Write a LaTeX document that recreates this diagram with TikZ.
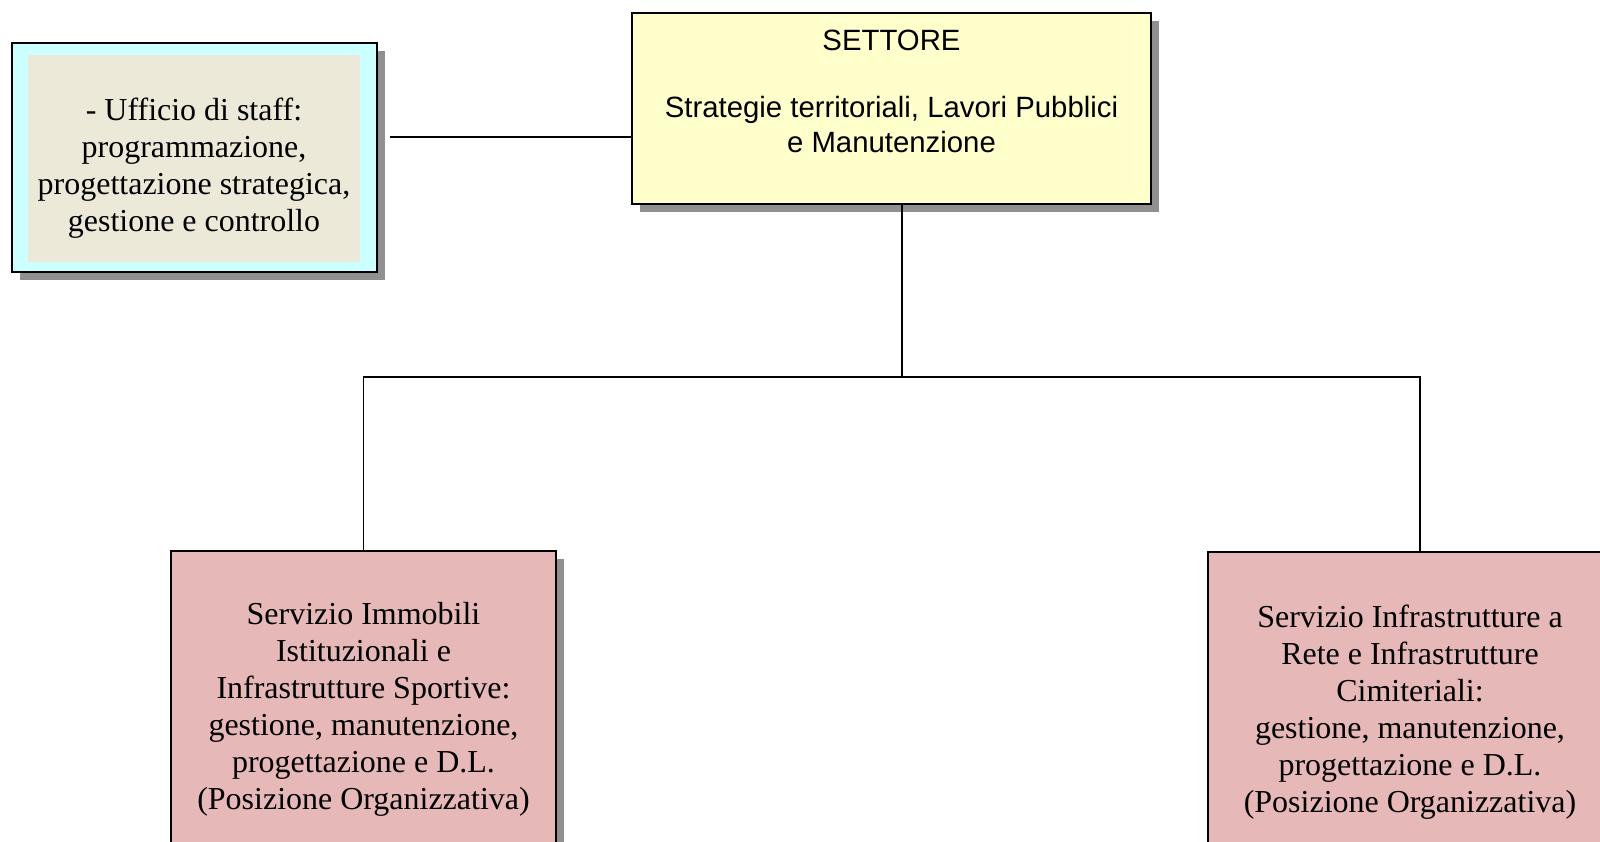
\documentclass[tikz,border=0pt]{standalone}
\usepackage{fontspec}
\setmainfont{Liberation Serif}
\setsansfont{Liberation Sans}
\usepackage{tikz}
\usetikzlibrary{calc,shadows}
\definecolor{staffcyan}{HTML}{CCFFFF}
\definecolor{staffbeige}{HTML}{ECE9D8}
\definecolor{settyellow}{HTML}{FFFFCC}
\definecolor{servpink}{HTML}{E6B8B7}
\definecolor{shade}{HTML}{909090}
\tikzset{
  box/.style={draw=black, line width=1.4pt, rectangle, inner sep=0pt, align=center,
    drop shadow={fill=shade, opacity=1, shadow xshift=0.16cm, shadow yshift=-0.16cm}},
  link/.style={draw=black, line width=1.1pt},
  serif/.style={font=\fontsize{18.2}{21}\selectfont},
  sans/.style={font=\sffamily\fontsize{16.7}{20}\selectfont},
}

\begin{document}
\begin{tikzpicture}[x=0.02cm,y=-0.02cm]
  \path[use as bounding box] (0,0) rectangle (1600,842);
  \clip (0,0) rectangle (1600,842);
  % boxes
  \node[box, fill=staffcyan, minimum width=7.3cm, minimum height=4.58cm] (staff) at (194.5,157.5) {};
  \node[fill=staffbeige, inner sep=0pt, minimum width=6.64cm, minimum height=4.14cm] (staffinner) at (194,158.5) {};
  \node[serif, align=center] (stafftext) at (194,168.5)
    {- Ufficio di staff:\\programmazione,\\progettazione strategica,\\gestione e controllo};
  \node[box, fill=settyellow, minimum width=10.38cm, minimum height=3.82cm] (settore) at (891.5,108.5) {};
  \node[sans, align=center] (settoretext) at (891.5,91.5)
    {SETTORE\\[0.62cm]Strategie territoriali, Lavori Pubblici\\e Manutenzione};
  \node[box, fill=servpink, serif, minimum width=7.7cm, minimum height=6.34cm] (immobili) at (363.5,709.5)
    {Servizio Immobili\\Istituzionali e\\Infrastrutture Sportive:\\gestione, manutenzione,\\progettazione e D.L.\\(Posizione Organizzativa)};
  \node[box, fill=servpink, serif, minimum width=8.08cm, minimum height=6.4cm] (infra) at (1410,712)
    {Servizio Infrastrutture a\\Rete e Infrastrutture\\Cimiteriali:\\gestione, manutenzione,\\progettazione e D.L.\\(Posizione Organizzativa)};
  % connectors
  \coordinate (stafftap) at (390,137);
  \coordinate (fork) at (902,377);
  \draw[link] (stafftap) -- (stafftap -| settore.west);
  \draw[link] (fork |- settore.south) -- (fork);
  \draw[link] (immobili.north) |- (fork) -| ([xshift=0.2cm]infra.north);
\end{tikzpicture}
\end{document}
